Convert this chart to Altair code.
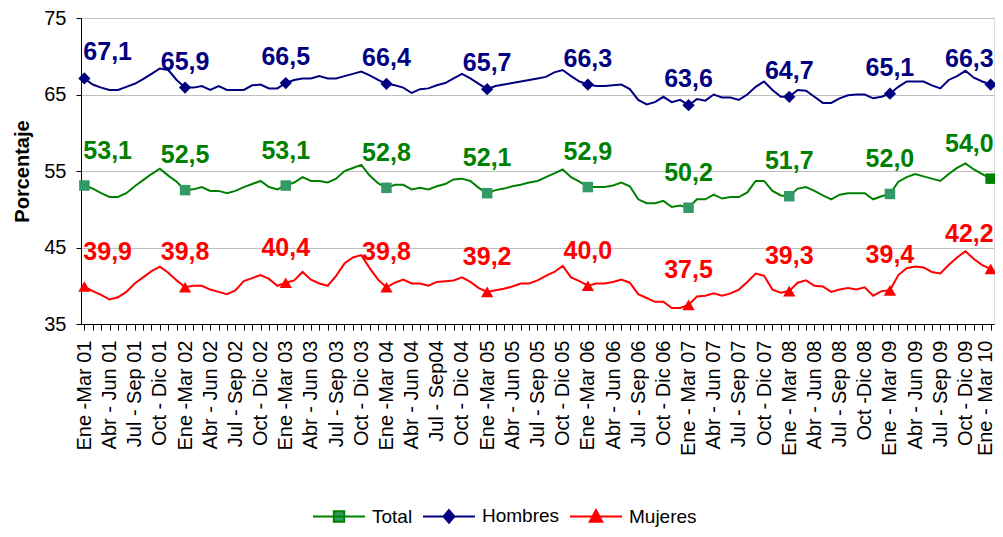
import json
import altair as alt
import pandas as pd

FONT = "Liberation Sans, Arial, sans-serif"

# Tick labels (one every three months)
periods = [
    "Ene -Mar 01", "Abr - Jun 01", "Jul - Sep 01", "Oct - Dic 01",
    "Ene -Mar 02", "Abr - Jun 02", "Jul - Sep 02", "Oct - Dic 02",
    "Ene -Mar 03", "Abr - Jun 03", "Jul - Sep 03", "Oct - Dic 03",
    "Ene -Mar 04", "Abr - Jun 04", "Jul - Sep04", "Oct - Dic 04",
    "Ene -Mar 05", "Abr - Jun 05", "Jul - Sep 05", "Oct - Dic 05",
    "Ene -Mar 06", "Abr - Jun 06", "Jul - Sep 06", "Oct - Dic 06",
    "Ene - Mar 07", "Abr - Jun 07", "Jul - Sep 07", "Oct - Dic 07",
    "Ene - Mar 08", "Abr - Jun 08", "Jul - Sep 08", "Oct -Dic 08",
    "Ene - Mar 09", "Abr - Jun 09", "Jul - Sep 09", "Oct - Dic 09",
    "Ene - Mar 10",
]

# Monthly moving-quarter values, Ene-Mar 01 ... Ene-Mar 10
hombres = [
    67.1, 66.3, 65.9, 65.6, 65.6, 66.0, 66.4, 67.0, 67.7, 68.4, 68.2, 66.9,
    65.9, 65.9, 66.1, 65.6, 66.1, 65.6, 65.6, 65.6, 66.2, 66.3, 65.8, 65.8,
    66.5, 66.9, 67.1, 67.1, 67.4, 67.1, 67.1, 67.4, 67.7, 68.0, 67.5, 66.9,
    66.4, 66.2, 65.9, 65.2, 65.7, 65.8, 66.2, 66.5, 67.1, 67.7, 67.1, 66.4,
    65.7, 66.1, 66.3, 66.5, 66.7, 66.9, 67.1, 67.3, 67.9, 68.2, 67.4, 66.7,
    66.3, 66.1, 66.1, 66.2, 66.3, 65.7, 64.3, 63.7, 64.0, 64.7, 64.0, 64.3,
    63.6, 64.4, 64.2, 65.0, 64.6, 64.6, 64.3, 65.0, 66.0, 66.7, 65.6, 64.7,
    64.7, 65.6, 65.5, 64.7, 63.9, 63.9, 64.5, 64.9, 65.0, 65.0, 64.5, 64.7,
    65.1, 66.0, 66.7, 66.7, 66.7, 66.2, 65.8, 66.9, 67.4, 68.1, 67.2, 66.7,
    66.3,
]
total = [
    53.1, 52.7, 52.1, 51.6, 51.6, 52.1, 53.0, 53.8, 54.6, 55.3, 54.4, 53.6,
    52.5, 52.6, 52.9, 52.4, 52.4, 52.1, 52.4, 52.9, 53.3, 53.7, 52.9, 52.6,
    53.1, 53.5, 54.2, 53.7, 53.7, 53.5, 54.0, 55.0, 55.4, 55.8, 54.4, 53.4,
    52.8, 53.2, 53.2, 52.6, 52.8, 52.6, 53.0, 53.3, 53.9, 54.0, 53.7, 52.8,
    52.1, 52.5, 52.7, 53.0, 53.2, 53.5, 53.7, 54.2, 54.7, 55.2, 54.2, 53.6,
    52.9, 52.9, 52.9, 53.1, 53.5, 53.0, 51.3, 50.8, 50.8, 51.1, 50.3, 50.5,
    50.2, 51.3, 51.3, 51.9, 51.4, 51.6, 51.6, 52.2, 53.7, 53.7, 52.4, 51.8,
    51.7, 52.7, 52.9, 52.4, 51.8, 51.3, 51.9, 52.1, 52.1, 52.1, 51.3, 51.7,
    52.0, 53.6, 54.2, 54.6, 54.3, 54.0, 53.7, 54.6, 55.4, 56.0, 55.2, 54.6,
    54.0,
]
mujeres = [
    39.9, 39.3, 38.8, 38.2, 38.5, 39.2, 40.3, 41.1, 41.9, 42.5, 41.7, 40.7,
    39.8, 40.0, 40.0, 39.5, 39.2, 38.9, 39.4, 40.6, 41.0, 41.4, 40.9, 40.0,
    40.4, 40.7, 41.8, 40.8, 40.3, 40.0, 41.3, 42.9, 43.7, 44.0, 42.3, 40.8,
    39.8, 40.4, 40.8, 40.3, 40.3, 40.0, 40.5, 40.6, 40.7, 41.1, 40.5, 39.7,
    39.2, 39.4, 39.6, 39.9, 40.3, 40.3, 40.7, 41.3, 41.8, 42.6, 41.1, 40.6,
    40.0, 40.3, 40.3, 40.5, 40.8, 40.4, 38.9, 38.4, 37.9, 37.9, 37.1, 37.1,
    37.5, 38.6, 38.7, 39.0, 38.7, 39.0, 39.5, 40.5, 41.6, 41.3, 39.5, 39.1,
    39.3, 40.4, 40.7, 40.0, 39.9, 39.2, 39.5, 39.7, 39.5, 39.8, 38.7, 39.3,
    39.4, 41.4, 42.3, 42.5, 42.4, 41.8, 41.6, 42.7, 43.7, 44.5, 43.5, 42.7,
    42.2,
]

series = ["Total", "Hombres", "Mujeres"]
line_colors = ["#008000", "#000080", "#FF0000"]
marker_colors = ["#339966", "#000080", "#FF0000"]
marker_shapes = ["square", "diamond", "triangle-up"]
marker_sizes = [110, 150, 150]
label_dy = [-27, -18, -27]
legend_paths = [
    "M-1,0H1M-0.2,-0.2H0.2V0.2H-0.2Z",
    "M-1,0H1M0,-0.24L0.21,0L0,0.24L-0.21,0Z",
    "M-1,0H1M0,-0.25L0.24,0.2L-0.24,0.2Z",
]

rows = []
for name, vals in zip(series, [total, hombres, mujeres]):
    for k, v in enumerate(vals):
        rows.append({"k": k, "value": v, "serie": name,
                     "label": f"{v:.1f}".replace(".", ",")})
df = pd.DataFrame(rows)
n_last = len(hombres) - 1

label_expr = ("datum.value % 3 == 0 ? " + json.dumps(periods) +
              "[datum.value / 3] : ''")

x_axis = alt.Axis(
    values=list(range(len(hombres))), labelExpr=label_expr,
    labelAngle=-90, labelFontSize=20, labelFont=FONT, labelColor="black",
    labelPadding=10, labelOverlap=False, labelBound=False, labelFlush=False,
    labelOffset={"condition": {"test": f"datum.value == {n_last}", "value": -5}, "value": 0},
    tickSize=6, tickColor="black", domainColor="black", grid=False, title=None,
)
y_axis = alt.Axis(
    values=[35, 45, 55, 65, 75], title="Porcentaje", titleFont=FONT,
    titleFontSize=20, titleFontWeight="bold", titleColor="black", titlePadding=11,
    labelFontSize=20, labelFont=FONT, labelColor="black", labelPadding=10,
    tickSize=5, tickColor="black", domainColor="black",
    grid=True, gridColor="#c0c0c0", gridWidth=1,
)
x_scale = alt.Scale(domain=[-0.4, n_last + 0.4], nice=False, zero=False)
y_scale = alt.Scale(domain=[35, 75], nice=False, zero=False)


def xe():
    return alt.X("k:Q", scale=x_scale, axis=x_axis)


def ye():
    return alt.Y("value:Q", scale=y_scale, axis=y_axis)


base = alt.Chart(df)

layers = []
for name, lc in zip(series, line_colors):
    layers.append(
        base.transform_filter(f"datum.serie == '{name}'")
        .mark_line(strokeWidth=2, color=lc)
        .encode(x=xe(), y=ye())
    )

for name, mc, shp, sz in zip(series, marker_colors, marker_shapes, marker_sizes):
    if name == "Total":
        col = alt.condition(f"datum.k == {n_last}", alt.value("#008000"), alt.value(mc))
    else:
        col = alt.value(mc)
    layers.append(
        base.transform_filter(f"datum.serie == '{name}' && datum.k % 12 == 0")
        .mark_point(shape=shp, filled=True, size=sz, opacity=1)
        .encode(x=xe(), y=ye(), color=col)
    )

for name, lc, dy in zip(series, line_colors, label_dy):
    for cond, align, dx in [
        ("datum.k == 0", "left", -1),
        (f"datum.k > 0 && datum.k < {n_last}", "center", 0),
        (f"datum.k == {n_last}", "right", 3),
    ]:
        layers.append(
            base.transform_filter(f"datum.serie == '{name}' && datum.k % 12 == 0 && {cond}")
            .mark_text(font=FONT, fontSize=25, fontWeight="bold", color=lc,
                       align=align, baseline="alphabetic", dx=dx, dy=dy)
            .encode(x=xe(), y=ye(), text="label:N")
        )

leg = alt.Legend(
    orient="none", legendX=231, legendY=471, direction="horizontal", title=None,
    symbolSize=2704, symbolStrokeWidth=2, symbolOpacity=1,
    labelFontSize=19, labelFont=FONT, labelColor="black",
    labelOffset=6, columnPadding=6, padding=0,
)
legend_layer = (
    base.transform_filter("datum.k == 0")
    .mark_point(filled=True, opacity=0)
    .encode(
        x=xe(), y=ye(),
        fill=alt.Fill("serie:N", scale=alt.Scale(domain=series, range=marker_colors), legend=leg),
        stroke=alt.Stroke("serie:N", scale=alt.Scale(domain=series, range=line_colors), legend=leg),
        shape=alt.Shape("serie:N", scale=alt.Scale(domain=series, range=legend_paths), legend=leg),
    )
)
layers.append(legend_layer)

chart = (
    alt.layer(*layers)
    .properties(
        width=913, height=306,
        autosize=alt.AutoSizeParams(type="none"),
        padding={"left": 73, "top": 10, "right": 1, "bottom": 205},
    )
    .configure_view(stroke="#c0c0c0", strokeWidth=1)
    .configure(background="white")
)

chart.save("out.html", embed_options={"renderer": "svg", "actions": False})
